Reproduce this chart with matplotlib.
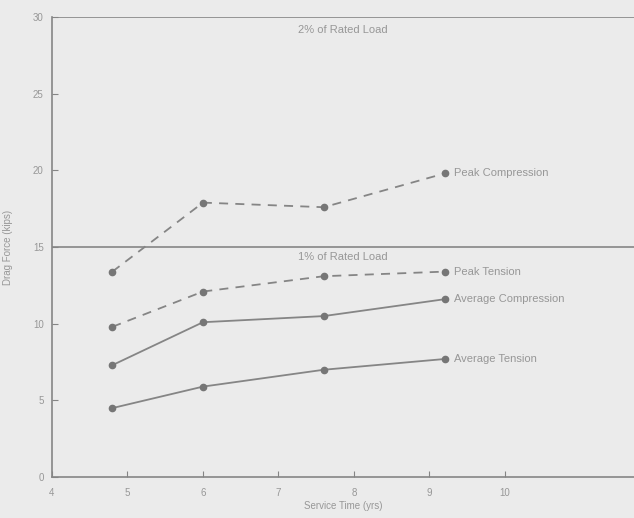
import matplotlib.pyplot as plt

# service time (yrs) and drag force (kips)
years = [4.8, 6.0, 7.6, 9.2]
peak_compression = [13.4, 17.9, 17.6, 19.8]
peak_tension = [9.8, 12.1, 13.1, 13.4]
avg_compression = [7.3, 10.1, 10.5, 11.6]
avg_tension = [4.5, 5.9, 7.0, 7.7]

series = [
    ('Peak Compression', peak_compression, '--'),
    ('Peak Tension', peak_tension, '--'),
    ('Average Compression', avg_compression, '-'),
    ('Average Tension', avg_tension, '-'),
]

ink = '#858585'
txt = '#979797'
bg = '#ebebeb'

plt.rcParams['font.family'] = ['Liberation Sans', 'DejaVu Sans']

fig = plt.figure(figsize=(6.34, 5.18), dpi=100, facecolor=bg)
ax = fig.add_axes([0.082, 0.079, 0.918, 0.888], facecolor=bg)

for name, vals, ls in series:
    ax.plot(years, vals, ls, color=ink, lw=1.3, marker='o', ms=4.5,
            mfc='#767676', mec='#767676',
            dashes=(5, 4) if ls == '--' else (None, None))
    ax.annotate(name, (years[-1], vals[-1]), xytext=(7, 0),
                textcoords='offset points', va='center', ha='left',
                fontsize=8, color=txt)

# rated load reference lines
ax.axhline(30, color=ink, lw=1.2)
ax.axhline(15, color=ink, lw=1.2)
ax.text(7.85, 29.5, '2% of Rated Load', ha='center', va='top', fontsize=8, color=txt)
ax.text(7.85, 14.7, '1% of Rated Load', ha='center', va='top', fontsize=8, color=txt)

ax.set_xlim(4, 11.71)
ax.set_ylim(0, 30)
ax.set_xticks([4, 5, 6, 7, 8, 9, 10])
ax.set_yticks([0, 5, 10, 15, 20, 25, 30])
ax.tick_params(direction='in', length=4, color=ink, labelcolor=txt, labelsize=7)
ax.tick_params(axis='x', pad=8)
ax.tick_params(axis='y', pad=6)

for s in ['top', 'right']:
    ax.spines[s].set_visible(False)
for s in ['left', 'bottom']:
    ax.spines[s].set_color(ink)
    ax.spines[s].set_linewidth(1.2)

ax.set_xlabel('Service Time (yrs)', fontsize=7, color=txt, labelpad=2)
ax.set_ylabel('Drag Force (kips)', fontsize=7, color=txt, labelpad=14)

fig.savefig('out.png', dpi=100, facecolor=bg)
